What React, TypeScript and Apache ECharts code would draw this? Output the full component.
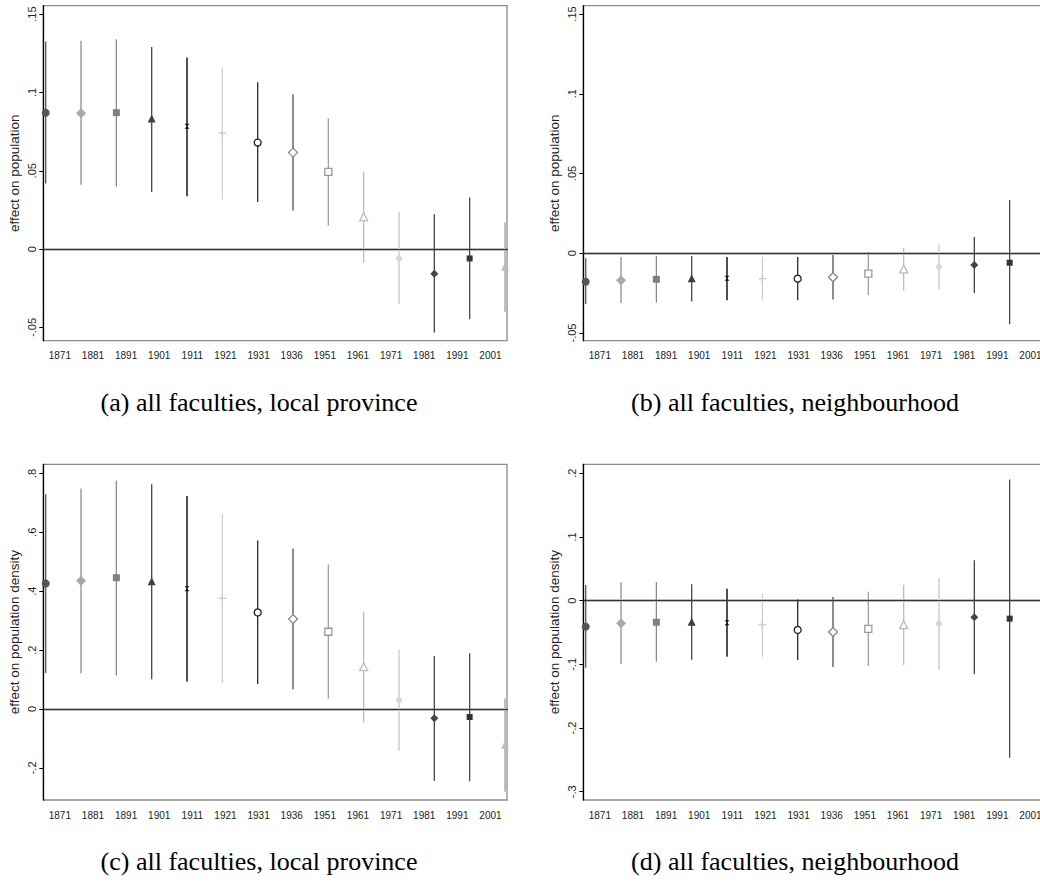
import React, { useEffect, useRef } from "react";
import * as echarts from "echarts";

const years = ["1871", "1881", "1891", "1901", "1911", "1921", "1931", "1936", "1951", "1961", "1971", "1981", "1991", "2001"];

// (a) population, local province
const popLocalCoef = [0.0871, 0.0867, 0.0871, 0.0833, 0.0784, 0.074, 0.068, 0.0616, 0.0493, 0.0206, -0.006, -0.0157, -0.006, -0.0113];
const popLocalLo = [0.0419, 0.041, 0.04, 0.0365, 0.0338, 0.0317, 0.03, 0.0246, 0.0149, -0.0087, -0.0353, -0.0533, -0.0448, -0.04];
const popLocalHi = [0.1326, 0.133, 0.134, 0.129, 0.1224, 0.116, 0.1065, 0.0988, 0.0835, 0.0495, 0.0238, 0.0223, 0.0329, 0.017];

// (b) population, neighbourhood
const popNbhdCoef = [-0.0178, -0.0169, -0.0163, -0.0157, -0.0157, -0.0159, -0.0159, -0.015, -0.0127, -0.0098, -0.0086, -0.0073, -0.0059];
const popNbhdLo = [-0.0318, -0.0313, -0.0309, -0.0303, -0.0295, -0.029, -0.0295, -0.029, -0.0263, -0.0234, -0.0226, -0.0249, -0.0445];
const popNbhdHi = [-0.0031, -0.0023, -0.0017, -0.0017, -0.0023, -0.0023, -0.0023, -0.001, 0.0008, 0.0033, 0.0056, 0.0102, 0.0334];

// (c) population density, local province
const denLocalCoef = [0.4265, 0.4355, 0.4457, 0.434, 0.4084, 0.3756, 0.328, 0.3054, 0.2624, 0.1437, 0.0294, -0.0317, -0.0271, -0.121];
const denLocalLo = [0.122, 0.121, 0.114, 0.1007, 0.0928, 0.0882, 0.0848, 0.0667, 0.035, -0.0464, -0.1425, -0.2443, -0.2455, -0.2805];
const denLocalHi = [0.7296, 0.749, 0.776, 0.7636, 0.723, 0.6618, 0.5724, 0.545, 0.491, 0.3314, 0.2025, 0.18, 0.189, 0.036];

// (d) population density, neighbourhood
const denNbhdCoef = [-0.0408, -0.0356, -0.034, -0.033, -0.0346, -0.0382, -0.046, -0.0492, -0.0445, -0.0377, -0.0361, -0.0262, -0.0283];
const denNbhdLo = [-0.1052, -0.099, -0.0958, -0.0927, -0.088, -0.0885, -0.0932, -0.1042, -0.1026, -0.101, -0.1084, -0.1157, -0.2466];
const denNbhdHi = [0.0246, 0.0288, 0.0293, 0.0257, 0.0188, 0.0115, 0.0016, 0.0058, 0.0141, 0.0251, 0.0356, 0.0634, 0.19];

const yTicksPop = [-0.05, 0, 0.05, 0.1, 0.15];
const yTicksDen = [-0.2, 0, 0.2, 0.4, 0.6, 0.8];
const yTicksDenN = [-0.3, -0.2, -0.1, 0, 0.1, 0.2];

const captions = [
  "(a) all faculties, local province",
  "(b) all faculties, neighbourhood",
  "(c) all faculties, local province",
  "(d) all faculties, neighbourhood",
];

const XPATH = "path://M0,0L10,0L0,10L10,10Z";
const PLUSPATH = "path://M5,0L5,10M0,5L10,5";

// marker / bar styles per coefficient (Stata mono scheme)
const styles = [
  { symbol: "circle", fill: "#555555", stroke: "#555555", bar: "#555555", size: 8, bw: 1.3 },
  { symbol: "diamond", fill: "#a8a8a8", stroke: "#a8a8a8", bar: "#b4b4b4", size: 10, bw: 2 },
  { symbol: "rect", fill: "#808080", stroke: "#808080", bar: "#858585", size: 7, bw: 1.2 },
  { symbol: "triangle", fill: "#404040", stroke: "#404040", bar: "#454545", size: 8, bw: 1.3 },
  { symbol: XPATH, fill: "#111111", stroke: "#111111", bar: "#505050", size: 5, bw: 2 },
  { symbol: PLUSPATH, fill: "rgba(0,0,0,0)", stroke: "#c8c8c8", bar: "#cccccc", size: 8, bw: 1.2, line: true },
  { symbol: "circle", fill: "#ffffff", stroke: "#222222", bar: "#2a2a2a", size: 7, bw: 1.3, hollow: true },
  { symbol: "diamond", fill: "#ffffff", stroke: "#888888", bar: "#8c8c8c", size: 9, bw: 2, hollow: true },
  { symbol: "rect", fill: "#ffffff", stroke: "#999999", bar: "#9a9a9a", size: 7, bw: 1.2, hollow: true },
  { symbol: "triangle", fill: "#ffffff", stroke: "#bbbbbb", bar: "#bdbdbd", size: 8, bw: 1.3, hollow: true },
  { symbol: "circle", fill: "#d6d6d6", stroke: "#d6d6d6", bar: "#dadada", size: 6, bw: 2 },
  { symbol: "diamond", fill: "#444444", stroke: "#444444", bar: "#444444", size: 8, bw: 1.3 },
  { symbol: "rect", fill: "#333333", stroke: "#333333", bar: "#4a4a4a", size: 6, bw: 1.3 },
  { symbol: "triangle", fill: "#bbbbbb", stroke: "#bbbbbb", bar: "#c0c0c0", size: 8, bw: 2 },
];

const panels = [
  { coef: popLocalCoef, lo: popLocalLo, hi: popLocalHi, ticks: yTicksPop, min: -0.0585, max: 0.1554, name: "effect on population", left: 43.3, top: 5.7, height: 335 },
  { coef: popNbhdCoef, lo: popNbhdLo, hi: popNbhdHi, ticks: yTicksPop, min: -0.0548, max: 0.1552, name: "effect on population", left: 583.3, top: 5.7, height: 335 },
  { coef: denLocalCoef, lo: denLocalLo, hi: denLocalHi, ticks: yTicksDen, min: -0.309, max: 0.831, name: "effect on population density", left: 43.3, top: 464.3, height: 335.7 },
  { coef: denNbhdCoef, lo: denNbhdLo, hi: denNbhdHi, ticks: yTicksDenN, min: -0.313, max: 0.214, name: "effect on population density", left: 583.3, top: 464.3, height: 335.7 },
];

const captionPos = [
  [259, 402],
  [795, 402],
  [259, 861],
  [795, 861],
];

function fmt(v: number) {
  if (Math.abs(v) < 1e-9) return "0";
  const s = String(Math.round(Math.abs(v) * 1000) / 1000).replace(/^0/, "");
  return (v < 0 ? "-" : "") + s;
}

export default function App() {
  const ref = useRef<HTMLDivElement>(null);
  useEffect(() => {
    if (!ref.current) return;
    const chart = echarts.init(ref.current, null, { renderer: "svg" });
    const grid: any[] = [];
    const xAxis: any[] = [];
    const yAxis: any[] = [];
    const series: any[] = [];
    panels.forEach((p, g) => {
      grid.push({
        left: p.left,
        top: p.top,
        width: 463.7,
        height: p.height,
        show: true,
        borderColor: "#8c8c8c",
        borderWidth: 1.3,
        backgroundColor: "#ffffff",
      });
      // category axis for labels
      xAxis.push({
        type: "category",
        gridIndex: g,
        data: years,
        boundaryGap: true,
        position: "bottom",
        axisLine: { lineStyle: { color: "#000", width: 1.3 } },
        axisTick: { alignWithLabel: true, length: 4, lineStyle: { color: "#000", width: 1 } },
        axisLabel: { interval: 0, fontSize: 10, color: "#222", fontFamily: "Liberation Sans, Arial", margin: 10 },
        splitLine: { show: false },
      });
      // value axis for positions
      xAxis.push({
        type: "value",
        gridIndex: g,
        min: 0.932,
        max: 14.057,
        show: false,
        splitLine: { show: false },
      });
      yAxis.push({
        type: "value",
        gridIndex: g,
        min: p.min,
        max: p.max,
        name: p.name,
        nameLocation: "middle",
        nameGap: 22,
        nameTextStyle: { fontSize: 13.5, color: "#222", fontFamily: "Liberation Sans, Arial" },
        axisLine: { show: true, lineStyle: { color: "#000", width: 1.3 } },
        axisTick: { show: true, length: 4, customValues: p.ticks, lineStyle: { color: "#000", width: 1 } },
        axisLabel: {
          rotate: 90,
          fontSize: 11,
          color: "#222",
          fontFamily: "Liberation Sans, Arial",
          margin: 6,
          customValues: p.ticks,
          formatter: (v: number) => fmt(v),
        },
        splitLine: { show: false },
      });
      const n = p.coef.length;
      const bars = [] as any[];
      for (let i = 0; i < n; i++) bars.push([i + 1, p.lo[i], p.hi[i]]);
      series.push({
        type: "custom",
        xAxisIndex: g * 2 + 1,
        yAxisIndex: g,
        clip: true,
        silent: true,
        data: bars,
        renderItem: (params: any, api: any) => {
          const x = api.value(0);
          const a = api.coord([x, api.value(1)]);
          const b = api.coord([x, api.value(2)]);
          const st = styles[params.dataIndex];
          return {
            type: "line",
            shape: { x1: a[0], y1: a[1], x2: b[0], y2: b[1] },
            style: { stroke: st.bar, lineWidth: st.bw },
          };
        },
        z: 2,
      });
      series.push({
        type: "scatter",
        xAxisIndex: g * 2 + 1,
        yAxisIndex: g,
        clip: true,
        silent: true,
        z: 4,
        data: p.coef.map((v, i) => {
          const st = styles[i];
          return {
            value: [i + 1, v],
            symbol: st.symbol,
            symbolSize: st.size,
            itemStyle: {
              color: st.fill,
              borderColor: st.stroke,
              borderWidth: st.hollow || st.line ? 1.3 : 0,
              opacity: 1,
            },
          };
        }),
        markLine: {
          silent: true,
          symbol: "none",
          label: { show: false },
          lineStyle: { color: "#333", width: 1.1, type: "solid" },
          data: [{ yAxis: 0 }],
          z: 3,
        },
      });
    });
    chart.setOption({
      animation: false,
      backgroundColor: "#ffffff",
      grid,
      xAxis,
      yAxis,
      series,
      graphic: captions.map((t, i) => ({
        type: "text",
        x: captionPos[i][0],
        y: captionPos[i][1],
        style: {
          text: t,
          fontSize: 26,
          fontFamily: "Liberation Serif",
          fill: "#000",
          align: "center",
          verticalAlign: "middle",
        },
      })),
    });
    return () => chart.dispose();
  }, []);
  return (
    <div style={{ position: "fixed", left: 0, top: 0, width: 1040, height: 884, overflow: "hidden", background: "#fff" }}>
      <div ref={ref} style={{ width: 1060, height: 884 }} />
    </div>
  );
}
